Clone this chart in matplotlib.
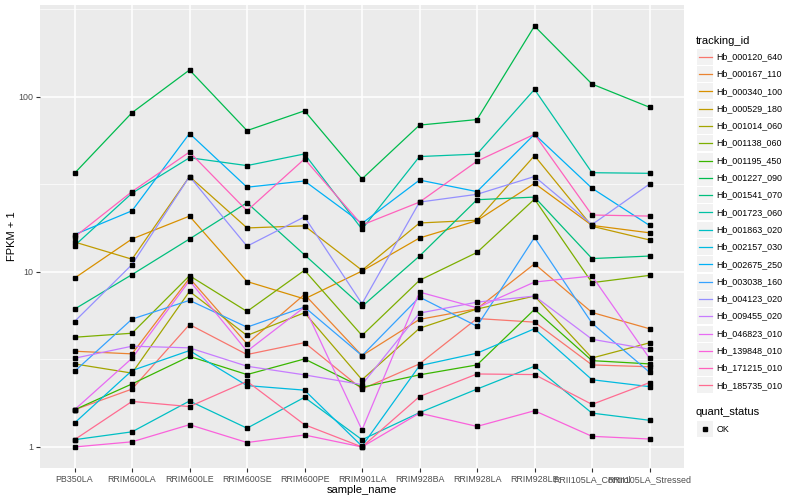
import numpy as np
import matplotlib
matplotlib.use("Agg")
from matplotlib import pyplot as plt
from matplotlib.patches import Rectangle
from matplotlib.lines import Line2D

plt.rcParams['font.family'] = ['Liberation Sans', 'DejaVu Sans']

# data (FPKM + 1)
samples = ["PB350LA", "RRIM600LA", "RRIM600LE", "RRIM600SE", "RRIM600PE", "RRIM901LA",
           "RRIM928BA", "RRIM928LA", "RRIM928LE", "RRII105LA_Control", "RRII105LA_Stressed"]

tracking_ids = ["Hb_000120_640", "Hb_000167_110", "Hb_000340_100", "Hb_000529_180",
                "Hb_001014_060", "Hb_001138_060", "Hb_001195_450", "Hb_001227_090",
                "Hb_001541_070", "Hb_001723_060", "Hb_001863_020", "Hb_002157_030",
                "Hb_002675_250", "Hb_003038_160", "Hb_004123_020", "Hb_009455_020",
                "Hb_046823_010", "Hb_139848_010", "Hb_171215_010", "Hb_185735_010"]

colors = ["#F8766D", "#EA8331", "#D89000", "#C09B00", "#A3A500", "#7CAE00", "#39B600",
          "#00BB4E", "#00BF7D", "#00C1A3", "#00BFC4", "#00BAE0", "#00B0F6", "#35A2FF",
          "#9590FF", "#C77CFF", "#E76BF3", "#FA62DB", "#FF62BC", "#FF6C91"]

hb_000120_640 = [1.63, 2.14, 5.0, 3.37, 3.94, 2.14, 2.98, 5.41, 5.16, 2.94, 2.87]
hb_000167_110 = [3.52, 3.40, 9.2, 3.88, 7.43, 3.32, 5.35, 6.15, 11.1, 5.86, 4.73]
hb_000340_100 = [9.2, 15.4, 20.8, 8.8, 7.0, 10.1, 15.6, 19.6, 32.0, 18.4, 16.7]
hb_000529_180 = [14.8, 11.8, 35.0, 17.8, 18.3, 10.2, 19.0, 19.7, 46.0, 18.2, 15.2]
hb_001014_060 = [2.98, 2.64, 7.73, 4.33, 5.84, 2.42, 4.76, 6.13, 7.27, 3.22, 3.93]
hb_001138_060 = [4.23, 4.46, 9.5, 5.94, 10.2, 4.33, 8.94, 12.9, 26.0, 8.67, 9.54]
hb_001195_450 = [1.63, 2.29, 3.29, 2.59, 3.18, 2.19, 2.58, 2.94, 6.1, 3.11, 2.98]
hb_001227_090 = [36.5, 81.0, 142.0, 64.0, 83.0, 33.9, 68.8, 74.0, 253.0, 118.0, 87.0]
hb_001541_070 = [6.12, 9.64, 15.4, 24.8, 12.5, 6.34, 12.3, 25.8, 26.7, 11.9, 12.3]
hb_001723_060 = [14.1, 28.1, 44.8, 40.4, 47.1, 17.5, 45.5, 47.0, 110.0, 36.8, 36.5]
hb_001863_020 = [1.10, 1.22, 1.83, 1.28, 1.92, 1.10, 1.57, 2.14, 2.89, 1.56, 1.42]
hb_002157_030 = [1.37, 2.73, 3.55, 2.24, 2.11, 1.01, 2.91, 3.43, 4.73, 2.42, 2.21]
hb_002675_250 = [16.3, 22.3, 61.6, 30.4, 33.0, 18.9, 33.4, 28.7, 61.0, 30.0, 18.4]
hb_003038_160 = [2.70, 5.37, 6.87, 4.83, 6.29, 3.32, 7.17, 4.89, 15.7, 5.09, 2.67]
hb_004123_020 = [5.2, 11.0, 35.0, 14.0, 20.6, 6.57, 25.0, 27.7, 35.0, 18.6, 31.7]
hb_009455_020 = [3.21, 3.76, 3.68, 2.89, 2.58, 2.27, 5.81, 6.71, 7.27, 4.12, 3.61]
hb_046823_010 = [1.63, 3.21, 8.9, 3.52, 6.29, 1.25, 7.66, 6.23, 8.74, 9.46, 3.21]
hb_139848_010 = [1.0, 1.07, 1.34, 1.06, 1.17, 1.0, 1.56, 1.31, 1.61, 1.15, 1.11]
hb_171215_010 = [15.8, 28.7, 48.3, 22.3, 44.1, 18.5, 25.0, 42.8, 61.0, 21.1, 20.8]
hb_185735_010 = [1.10, 1.82, 1.70, 2.37, 1.34, 1.0, 1.94, 2.61, 2.59, 1.75, 2.33]

series = [hb_000120_640, hb_000167_110, hb_000340_100, hb_000529_180, hb_001014_060,
          hb_001138_060, hb_001195_450, hb_001227_090, hb_001541_070, hb_001723_060,
          hb_001863_020, hb_002157_030, hb_002675_250, hb_003038_160, hb_004123_020,
          hb_009455_020, hb_046823_010, hb_139848_010, hb_171215_010, hb_185735_010]

# figure in pixel terms (800x500)
W, H = 800, 500
fig = plt.figure(figsize=(8, 5), dpi=100)
ax = fig.add_axes([40 / W, 1 - 468 / H, (684 - 40) / W, (468 - 5) / H])
ax.set_facecolor("#EBEBEB")

x = np.arange(len(samples))
for vals, col in zip(series, colors):
    ax.plot(x, vals, color=col, lw=0.9, zorder=3)
    ax.plot(x, vals, ls="none", marker="s", ms=2.4, color="black", zorder=4)

ax.set_yscale("log")
allv = np.log10(np.concatenate(series))
lo, hi = allv.min(), allv.max()
pad = 0.05 * (hi - lo)
ax.set_ylim(10 ** (lo - pad), 10 ** (hi + pad))
ax.set_xlim(-0.6, len(samples) - 0.4)

ax.set_yticks([1, 10, 100])
ax.set_yticklabels(["1", "10", "100"])
ax.set_yticks([10 ** 0.5, 10 ** 1.5, 10 ** 2.5], minor=True)
ax.yaxis.set_minor_formatter(matplotlib.ticker.NullFormatter())
ax.set_xticks(x)
ax.set_xticklabels(samples)

ax.grid(which="major", color="white", lw=1.1, zorder=1)
ax.grid(which="minor", axis="y", color="white", lw=0.5, zorder=1)
ax.set_axisbelow(True)
for s in ax.spines.values():
    s.set_visible(False)
ax.tick_params(which="major", length=3, width=0.8, color="#333333",
               labelsize=6.4, labelcolor="#4D4D4D", pad=2)
ax.tick_params(which="minor", length=0)

ax.set_xlabel("sample_name", fontsize=8, color="black", labelpad=1)
ax.set_ylabel("FPKM + 1", fontsize=8, color="black", labelpad=1)

# legend drawn in figure pixels, ggplot style
def px(xp, yp):
    return xp / W, 1 - yp / H

fig.text(*px(696, 41), "tracking_id", fontsize=8, va="center", ha="left")
row0, step = 56.7, 17.3
for i, (name, col) in enumerate(zip(tracking_ids, colors)):
    yc = row0 + i * step
    fig.add_artist(Rectangle(px(697, yc + 8), 16 / W, 16 / H, transform=fig.transFigure,
                             facecolor="#F2F2F2", edgecolor="none"))
    fig.add_artist(Line2D([698.5 / W, 711.5 / W], [1 - yc / H] * 2, transform=fig.transFigure,
                          color=col, lw=0.9))
    fig.text(*px(716.5, yc), name, fontsize=6.4, va="center", ha="left")

fig.text(*px(696, 412), "quant_status", fontsize=8, va="center", ha="left")
fig.add_artist(Rectangle(px(697, 429 + 8), 16 / W, 16 / H, transform=fig.transFigure,
                         facecolor="#F2F2F2", edgecolor="none"))
fig.add_artist(Line2D([705 / W], [1 - 429 / H], transform=fig.transFigure,
                      ls="none", marker="s", ms=2.4, color="black"))
fig.text(*px(716.5, 429), "OK", fontsize=6.4, va="center", ha="left")

fig.savefig("out.png", dpi=100)
